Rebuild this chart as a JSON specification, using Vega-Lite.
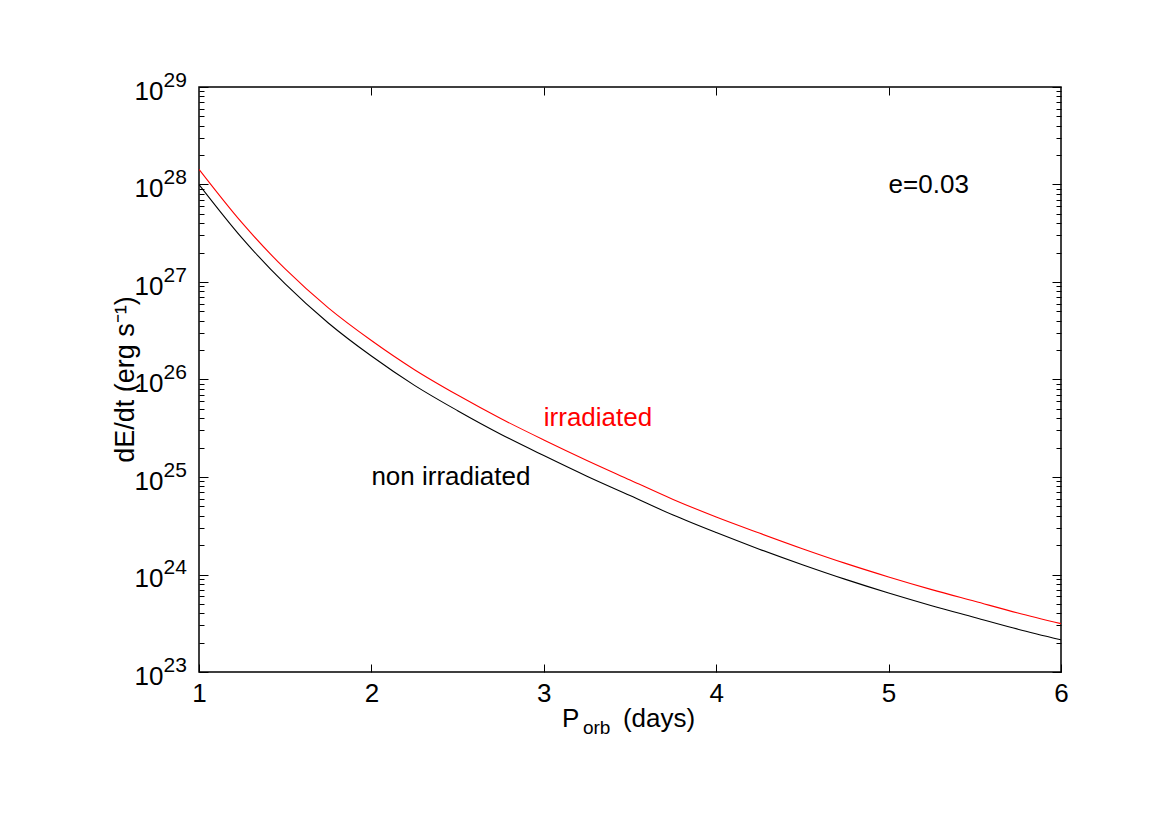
{
  "$schema": "https://vega.github.io/schema/vega-lite/v6.json",
  "width": 862,
  "height": 585,
  "autosize": {"type": "none"},
  "padding": {"left": 199, "top": 87, "right": 114, "bottom": 159},
  "background": "white",
  "config": {
    "font": "Liberation Sans",
    "view": {"stroke": "black", "strokeWidth": 1.5},
    "axis": {"domain": false, "grid": false, "tickColor": "black", "tickWidth": 1, "labelColor": "black", "titleColor": "black", "labelFont": "Liberation Sans", "titleFont": "Liberation Sans", "labelOverlap": false, "labelFlush": false}
  },
  "datasets": {
    "curves": [
      {"P": 1.0, "dEdt": 1.00e28, "series": "non irradiated"},
      {"P": 1.25, "dEdt": 2.82e27, "series": "non irradiated"},
      {"P": 1.5, "dEdt": 9.55e26, "series": "non irradiated"},
      {"P": 1.75, "dEdt": 3.80e26, "series": "non irradiated"},
      {"P": 2.0, "dEdt": 1.74e26, "series": "non irradiated"},
      {"P": 2.25, "dEdt": 8.71e25, "series": "non irradiated"},
      {"P": 2.5, "dEdt": 4.79e25, "series": "non irradiated"},
      {"P": 2.75, "dEdt": 2.75e25, "series": "non irradiated"},
      {"P": 3.0, "dEdt": 1.66e25, "series": "non irradiated"},
      {"P": 3.25, "dEdt": 1.02e25, "series": "non irradiated"},
      {"P": 3.5, "dEdt": 6.46e24, "series": "non irradiated"},
      {"P": 3.75, "dEdt": 4.07e24, "series": "non irradiated"},
      {"P": 4.0, "dEdt": 2.69e24, "series": "non irradiated"},
      {"P": 4.25, "dEdt": 1.82e24, "series": "non irradiated"},
      {"P": 4.5, "dEdt": 1.26e24, "series": "non irradiated"},
      {"P": 4.75, "dEdt": 8.91e23, "series": "non irradiated"},
      {"P": 5.0, "dEdt": 6.46e23, "series": "non irradiated"},
      {"P": 5.25, "dEdt": 4.79e23, "series": "non irradiated"},
      {"P": 5.5, "dEdt": 3.63e23, "series": "non irradiated"},
      {"P": 5.75, "dEdt": 2.75e23, "series": "non irradiated"},
      {"P": 6.0, "dEdt": 2.14e23, "series": "non irradiated"},
      {"P": 1.0, "dEdt": 1.43e28, "series": "irradiated"},
      {"P": 1.25, "dEdt": 4.03e27, "series": "irradiated"},
      {"P": 1.5, "dEdt": 1.36e27, "series": "irradiated"},
      {"P": 1.75, "dEdt": 5.43e26, "series": "irradiated"},
      {"P": 2.0, "dEdt": 2.51e26, "series": "irradiated"},
      {"P": 2.25, "dEdt": 1.26e26, "series": "irradiated"},
      {"P": 2.5, "dEdt": 6.92e25, "series": "irradiated"},
      {"P": 2.75, "dEdt": 3.98e25, "series": "irradiated"},
      {"P": 3.0, "dEdt": 2.40e25, "series": "irradiated"},
      {"P": 3.25, "dEdt": 1.48e25, "series": "irradiated"},
      {"P": 3.5, "dEdt": 9.33e24, "series": "irradiated"},
      {"P": 3.75, "dEdt": 5.89e24, "series": "irradiated"},
      {"P": 4.0, "dEdt": 3.89e24, "series": "irradiated"},
      {"P": 4.25, "dEdt": 2.66e24, "series": "irradiated"},
      {"P": 4.5, "dEdt": 1.84e24, "series": "irradiated"},
      {"P": 4.75, "dEdt": 1.30e24, "series": "irradiated"},
      {"P": 5.0, "dEdt": 9.44e23, "series": "irradiated"},
      {"P": 5.25, "dEdt": 7.00e23, "series": "irradiated"},
      {"P": 5.5, "dEdt": 5.31e23, "series": "irradiated"},
      {"P": 5.75, "dEdt": 4.03e23, "series": "irradiated"},
      {"P": 6.0, "dEdt": 3.13e23, "series": "irradiated"}
    ],
    "labels": [
      {"label": "irradiated", "series": "irradiated", "P": 3.0, "dEdt": 4.0e25},
      {"label": "non irradiated", "series": "non irradiated", "P": 2.0, "dEdt": 1.0e25}
    ]
  },
  "resolve": {"axis": {"x": "independent", "y": "independent"}, "scale": {"x": "shared", "y": "shared", "color": "shared"}},
  "layer": [
    {
      "data": {"name": "curves"},
      "mark": {"type": "line", "strokeWidth": 1.1, "interpolate": "monotone", "clip": true},
      "encoding": {
        "x": {"field": "P", "type": "quantitative", "scale": {"domain": [1, 6], "nice": false, "zero": false},
          "axis": {"orient": "bottom", "values": [1, 2, 3, 4, 5, 6], "format": "d", "tickSize": -8, "labelFontSize": 26, "labelPadding": 16, "title": null}},
        "y": {"field": "dEdt", "type": "quantitative", "scale": {"type": "log", "domain": [1e23, 1e29], "nice": false},
          "axis": {"orient": "left", "values": [1e23, 1e24, 1e25, 1e26, 1e27, 1e28, 1e29], "tickSize": -9, "labelExpr": "'10'", "labelFontSize": 26, "labelAlign": "right", "labelBaseline": "alphabetic", "labelOffset": 12, "labelPadding": 45,
            "title": "dE/dt (erg s⁻¹)", "titleFontSize": 27, "titleFontWeight": "normal", "titleAngle": -90, "titleX": -74, "titleY": 292, "titleAlign": "center", "titleBaseline": "middle"}},
        "color": {"field": "series", "type": "nominal", "scale": {"domain": ["non irradiated", "irradiated"], "range": ["#000000", "#ff0000"]}, "legend": null},
        "detail": {"field": "series"}
      }
    },
    {
      "data": {"name": "labels"},
      "mark": {"type": "text", "align": "left", "baseline": "middle", "fontSize": 26},
      "encoding": {
        "x": {"field": "P", "type": "quantitative", "axis": {"orient": "top", "values": [2, 3, 4, 5], "tickSize": -8, "labels": false, "title": null}},
        "y": {"field": "dEdt", "type": "quantitative", "axis": {"orient": "right", "values": [1e23, 1e24, 1e25, 1e26, 1e27, 1e28, 1e29], "tickSize": -9, "labels": false, "title": null}},
        "text": {"field": "label"},
        "color": {"field": "series", "type": "nominal", "legend": null}
      }
    },
    {
      "data": {"values": [{}]},
      "mark": {"type": "text", "text": "e=0.03", "align": "left", "baseline": "middle", "fontSize": 26, "color": "black"},
      "encoding": {
        "x": {"datum": 5.0, "type": "quantitative", "axis": null},
        "y": {"datum": 1e28, "type": "quantitative", "axis": {"orient": "left", "values": [1e23, 1e24, 1e25, 1e26, 1e27, 1e28, 1e29], "ticks": false, "labelExpr": "'' + round(log(datum.value)/LN10)", "labelFontSize": 21, "labelAlign": "left", "labelBaseline": "alphabetic", "labelOffset": -1, "labelPadding": 36, "title": null}}
      }
    },
    {
      "data": {"values": [{}]},
      "mark": {"type": "text", "text": "P", "align": "left", "baseline": "alphabetic", "fontSize": 26, "color": "black"},
      "encoding": {
        "x": {"datum": 3.106, "type": "quantitative", "axis": null},
        "y": {"datum": 2.73e22, "type": "quantitative", "axis": {"orient": "left", "values": [2e23, 3e23, 4e23, 5e23, 6e23, 7e23, 8e23, 9e23, 2e24, 3e24, 4e24, 5e24, 6e24, 7e24, 8e24, 9e24, 2e25, 3e25, 4e25, 5e25, 6e25, 7e25, 8e25, 9e25, 2e26, 3e26, 4e26, 5e26, 6e26, 7e26, 8e26, 9e26, 2e27, 3e27, 4e27, 5e27, 6e27, 7e27, 8e27, 9e27, 2e28, 3e28, 4e28, 5e28, 6e28, 7e28, 8e28, 9e28], "tickSize": -5, "labels": false, "title": null}}
      }
    },
    {
      "data": {"values": [{}]},
      "mark": {"type": "text", "text": "orb", "align": "left", "baseline": "alphabetic", "fontSize": 19, "color": "black"},
      "encoding": {
        "x": {"datum": 3.227, "type": "quantitative", "axis": null},
        "y": {"datum": 2.31e22, "type": "quantitative", "axis": {"orient": "right", "values": [2e23, 3e23, 4e23, 5e23, 6e23, 7e23, 8e23, 9e23, 2e24, 3e24, 4e24, 5e24, 6e24, 7e24, 8e24, 9e24, 2e25, 3e25, 4e25, 5e25, 6e25, 7e25, 8e25, 9e25, 2e26, 3e26, 4e26, 5e26, 6e26, 7e26, 8e26, 9e26, 2e27, 3e27, 4e27, 5e27, 6e27, 7e27, 8e27, 9e27, 2e28, 3e28, 4e28, 5e28, 6e28, 7e28, 8e28, 9e28], "tickSize": -5, "labels": false, "title": null}}
      }
    },
    {
      "data": {"values": [{}]},
      "mark": {"type": "text", "text": "(days)", "align": "left", "baseline": "alphabetic", "fontSize": 26, "color": "black"},
      "encoding": {
        "x": {"datum": 3.459, "type": "quantitative", "axis": null},
        "y": {"datum": 2.73e22, "type": "quantitative", "axis": null}
      }
    }
  ]
}
